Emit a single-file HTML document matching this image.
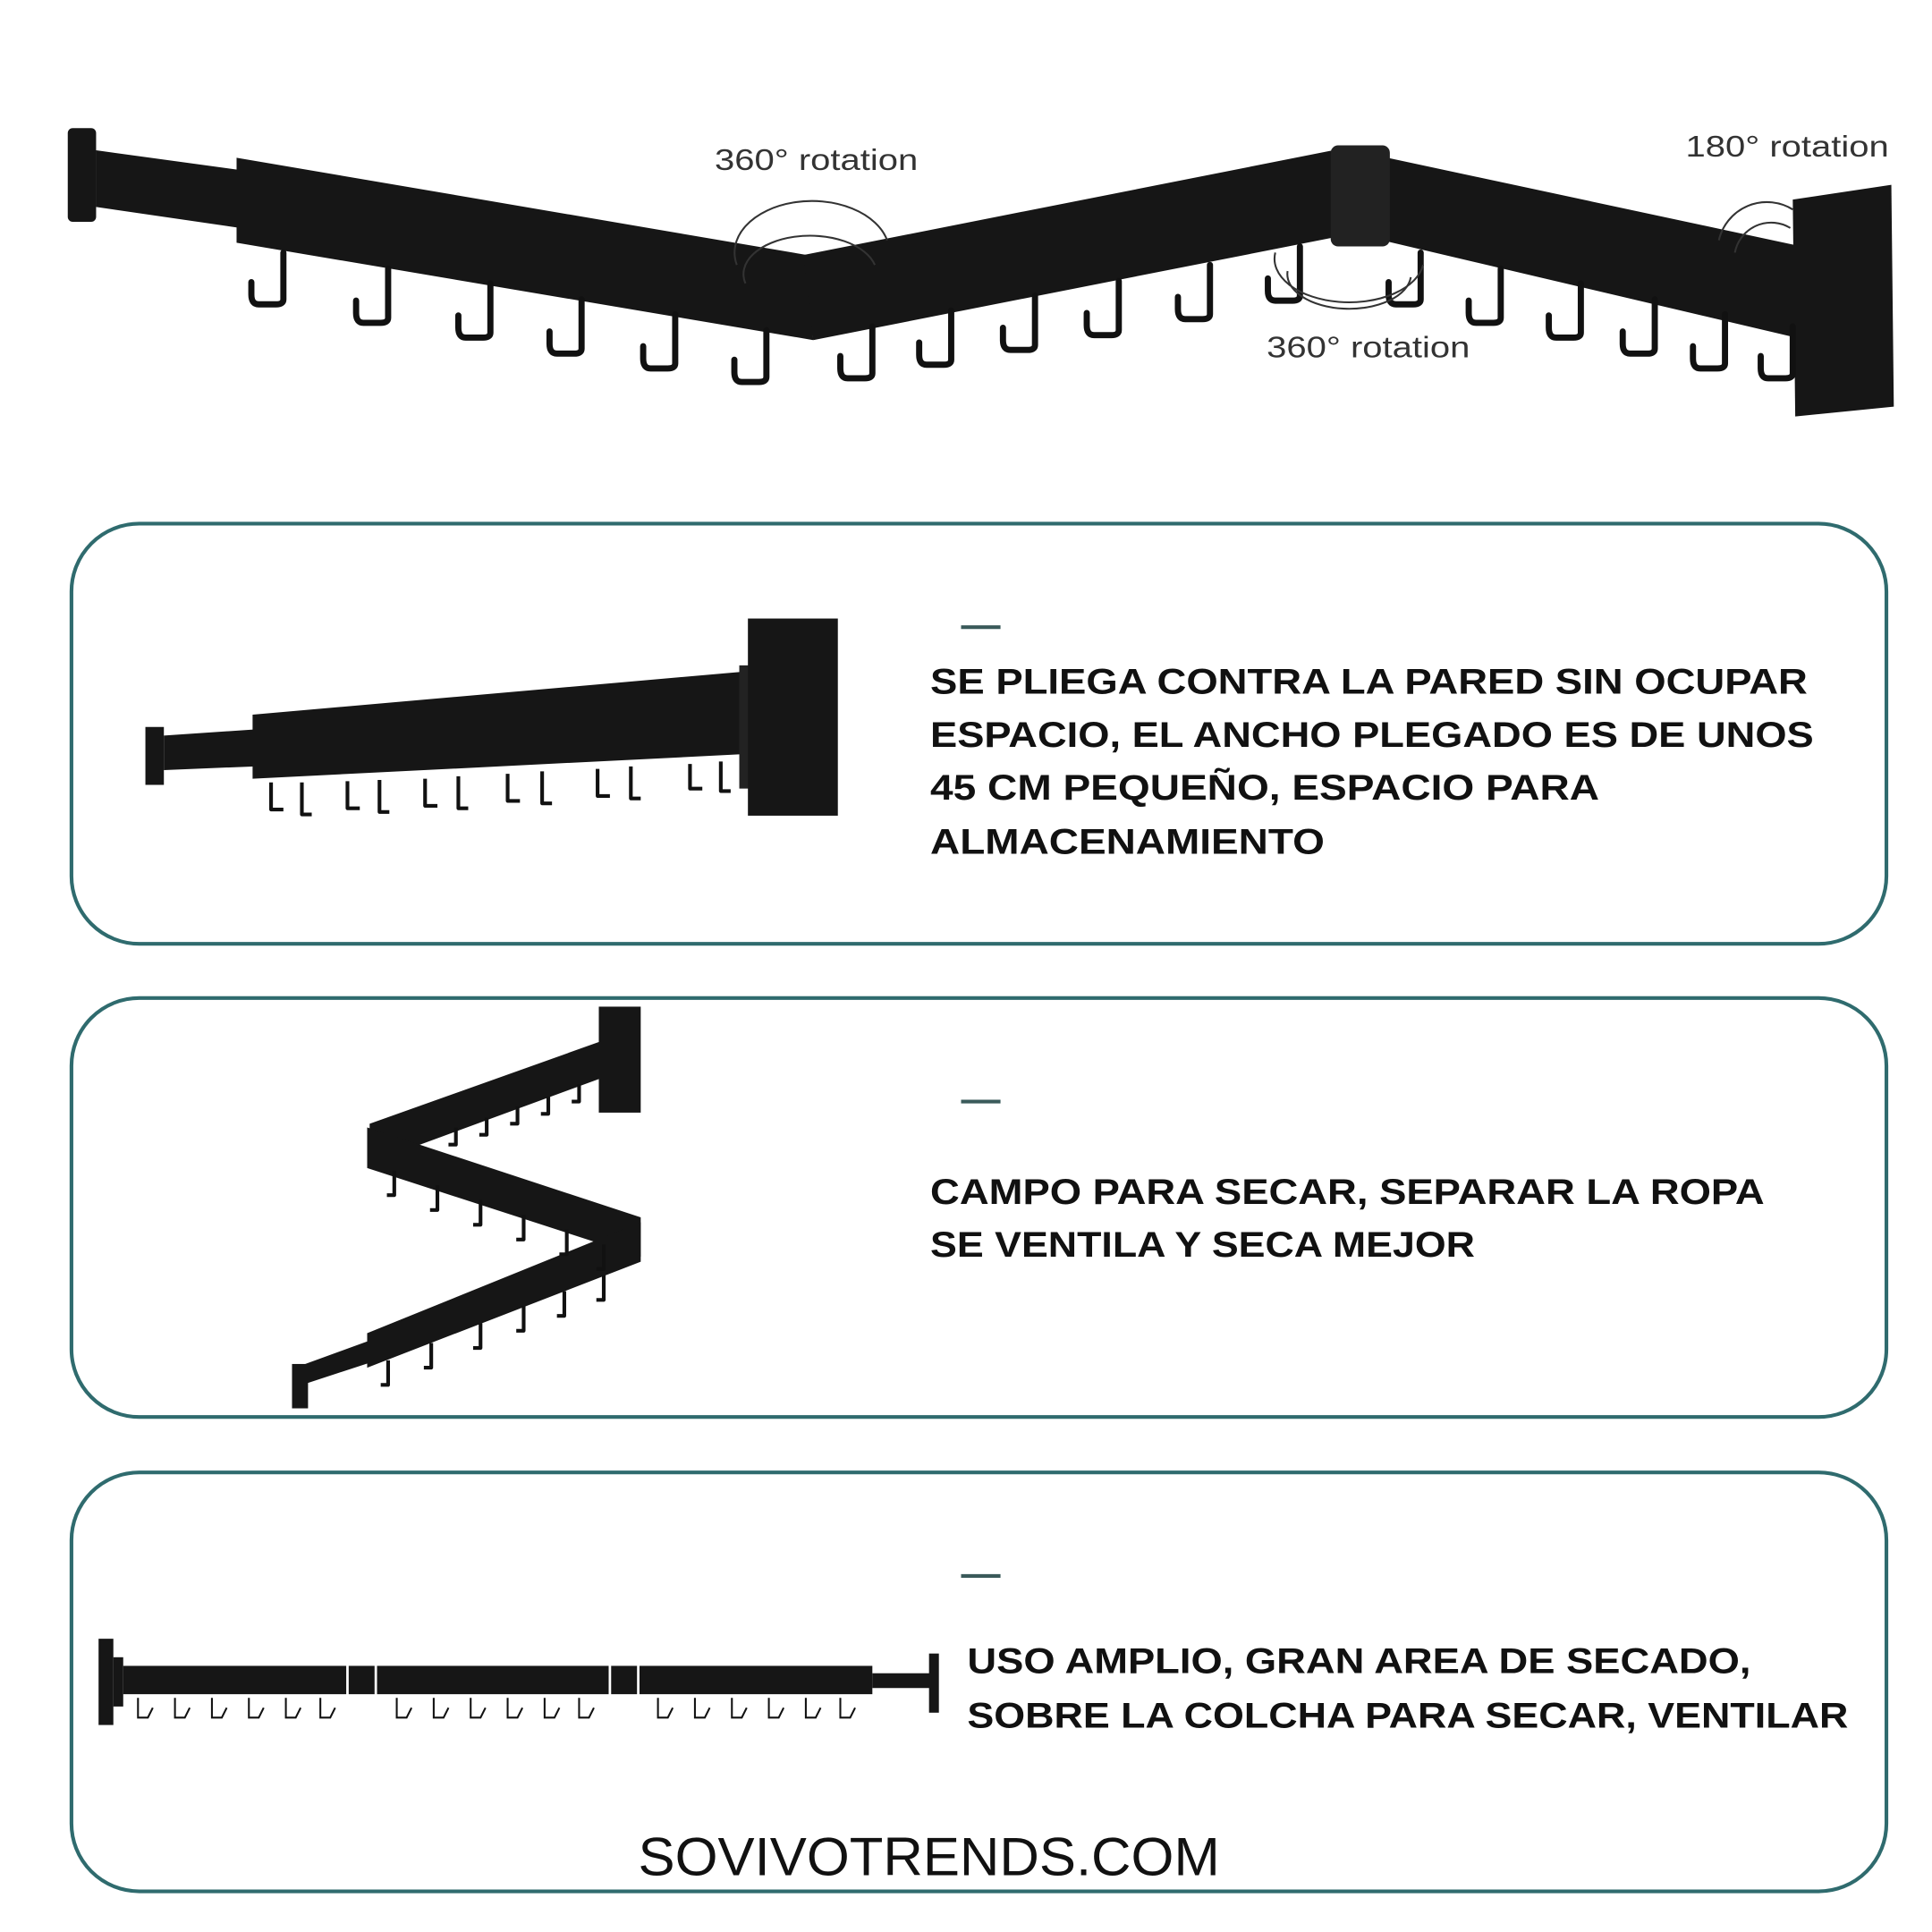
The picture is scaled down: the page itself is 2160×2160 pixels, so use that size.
<!DOCTYPE html>
<html><head><meta charset="utf-8"><style>
html,body{margin:0;padding:0;background:#fff}
svg{display:block}
.t{font-family:"Liberation Sans",sans-serif;font-weight:bold;font-size:29px;fill:#111}
.r{font-family:"Liberation Sans",sans-serif;font-size:24px;fill:#333}
.h{fill:none;stroke:#111;stroke-width:5;stroke-linecap:round;stroke-linejoin:round}
.hs{fill:none;stroke:#111;stroke-width:3;stroke-linejoin:round}
.hw{fill:none;stroke:#111;stroke-width:1.5}
</style></head><body>
<svg width="2160" height="2160" viewBox="0 0 1568 1568" xmlns="http://www.w3.org/2000/svg">
<rect width="1568" height="1568" fill="#fff"/>
<g fill="#161616">
<rect x="55" y="104" width="23" height="76" rx="4"/>
<polygon points="78,122 195,138 195,185 78,168"/>
<polygon points="192,128 655,207 660,276 192,197"/>
<polygon points="652,207 1082,122 1086,192 660,276"/>
<polygon points="1126,128 1462,200 1462,275 1126,196"/>
<rect x="1080" y="118" width="48" height="82" rx="6" fill="#222"/>
<polygon points="1455,162 1535,150 1537,330 1457,338"/>
</g>
<g class="h">
<path d="M230,205 v38 q0,4 -6,4 h-14 q-6,0 -6,-8 v-10"/>
<path d="M315,218 v40 q0,4 -6,4 h-14 q-6,0 -6,-8 v-10"/>
<path d="M398,230 v40 q0,4 -6,4 h-14 q-6,0 -6,-8 v-10"/>
<path d="M472,243 v40 q0,4 -6,4 h-14 q-6,0 -6,-8 v-10"/>
<path d="M548,255 v40 q0,4 -6,4 h-14 q-6,0 -6,-8 v-10"/>
<path d="M622,268 v38 q0,4 -6,4 h-14 q-6,0 -6,-8 v-10"/>
<path d="M708,265 v38 q0,4 -6,4 h-14 q-6,0 -6,-8 v-10"/>
<path d="M772,252 v40 q0,4 -6,4 h-14 q-6,0 -6,-8 v-10"/>
<path d="M840,240 v40 q0,4 -6,4 h-14 q-6,0 -6,-8 v-10"/>
<path d="M908,228 v40 q0,4 -6,4 h-14 q-6,0 -6,-8 v-10"/>
<path d="M982,215 v40 q0,4 -6,4 h-14 q-6,0 -6,-8 v-10"/>
<path d="M1055,200 v40 q0,4 -6,4 h-14 q-6,0 -6,-8 v-10"/>
<path d="M1153,205 v38 q0,4 -6,4 h-14 q-6,0 -6,-8 v-10"/>
<path d="M1218,218 v40 q0,4 -6,4 h-14 q-6,0 -6,-8 v-10"/>
<path d="M1283,230 v40 q0,4 -6,4 h-14 q-6,0 -6,-8 v-10"/>
<path d="M1343,243 v40 q0,4 -6,4 h-14 q-6,0 -6,-8 v-10"/>
<path d="M1400,255 v40 q0,4 -6,4 h-14 q-6,0 -6,-8 v-10"/>
<path d="M1455,265 v38 q0,4 -6,4 h-14 q-6,0 -6,-8 v-10"/>
</g>
<g fill="none" stroke="#333" stroke-width="1.5">
<path d="M598,215 a60,40 0 0 1 122,-20"/><path d="M605,230 a52,30 0 0 1 105,-15"/>
<path d="M1035,205 a60,35 0 0 0 120,10"/><path d="M1045,220 a50,28 0 0 0 100,5"/>
<path d="M1395,195 a40,40 0 0 1 60,-25"/><path d="M1408,205 a30,30 0 0 1 45,-20"/>
</g>
<text class="r" x="580" y="138" textLength="165" lengthAdjust="spacingAndGlyphs">360°  rotation</text>
<text class="r" x="1368" y="127" textLength="165" lengthAdjust="spacingAndGlyphs">180°  rotation</text>
<text class="r" x="1028" y="290" textLength="165" lengthAdjust="spacingAndGlyphs">360°  rotation</text>
<g fill="none" stroke="#2f6b6e" stroke-width="3">
<rect x="58" y="425" width="1473" height="341" rx="55"/>
<rect x="58" y="810" width="1473" height="340" rx="55"/>
<rect x="58" y="1195" width="1473" height="340" rx="55"/>
</g>
<g stroke="#3a5a5a" stroke-width="3">
<line x1="780" y1="509" x2="812" y2="509"/>
<line x1="780" y1="894" x2="812" y2="894"/>
<line x1="780" y1="1279" x2="812" y2="1279"/>
</g>
<g fill="#161616">
<rect x="118" y="590" width="15" height="47"/>
<polygon points="133,597 207,592 207,622 133,625"/>
<polygon points="205,580 605,545 605,612 205,632"/>
<rect x="600" y="540" width="40" height="100" fill="#222"/>
<rect x="607" y="502" width="73" height="160"/>
</g>
<g class="hs">
<path d="M220,635 v22 h10 M245,635 v26 h8 M282,634 v22 h10 M308,633 v26 h8 M345,632 v22 h10 M372,630 v26 h8 M412,628 v22 h10 M440,626 v26 h8 M485,624 v22 h10 M512,622 v26 h8 M560,620 v20 h10 M585,618 v24 h8"/>
</g>
<g fill="#161616">
<rect x="486" y="817" width="34" height="86"/>
<polygon points="488,845 300,912 300,944 488,875"/>
<polygon points="298,915 520,988 520,1020 298,948"/>
<polygon points="520,992 298,1082 298,1110 520,1024"/>
<polygon points="300,1088 245,1108 245,1124 300,1106"/>
<rect x="237" y="1107" width="13" height="36"/>
</g>
<g class="hs">
<path d="M470,880 v14 h-6 M445,890 v14 h-6 M420,898 v14 h-6 M395,907 v14 h-6 M370,915 v14 h-6"/>
<path d="M320,950 v20 h-6 M355,962 v20 h-6 M390,974 v20 h-6 M425,986 v20 h-6 M460,998 v20 h-6 M490,1010 v20 h-6"/>
<path d="M490,1035 v20 h-6 M458,1048 v20 h-6 M425,1060 v20 h-6 M390,1074 v20 h-6 M350,1090 v20 h-6 M315,1104 v20 h-6"/>
</g>
<g fill="#161616">
<rect x="80" y="1330" width="12" height="70"/>
<rect x="92" y="1345" width="8" height="40"/>
<rect x="100" y="1352" width="608" height="23"/>
<rect x="708" y="1358" width="48" height="12"/>
<rect x="754" y="1342" width="8" height="48"/>
</g>
<g stroke="#fff" stroke-width="2"><line x1="282" y1="1350" x2="282" y2="1377"/><line x1="305" y1="1350" x2="305" y2="1377"/><line x1="495" y1="1350" x2="495" y2="1377"/><line x1="518" y1="1350" x2="518" y2="1377"/></g>
<g class="hw">
<path d="M112,1378 v16 h8 l4,-8 M142,1378 v16 h8 l4,-8 M172,1378 v16 h8 l4,-8 M202,1378 v16 h8 l4,-8 M232,1378 v16 h8 l4,-8 M260,1378 v16 h8 l4,-8"/>
<path d="M322,1378 v16 h8 l4,-8 M352,1378 v16 h8 l4,-8 M382,1378 v16 h8 l4,-8 M412,1378 v16 h8 l4,-8 M442,1378 v16 h8 l4,-8 M470,1378 v16 h8 l4,-8"/>
<path d="M534,1378 v16 h8 l4,-8 M564,1378 v16 h8 l4,-8 M594,1378 v16 h8 l4,-8 M624,1378 v16 h8 l4,-8 M654,1378 v16 h8 l4,-8 M682,1378 v16 h8 l4,-8"/>
</g>
<text class="t" x="755" y="563" textLength="712" lengthAdjust="spacingAndGlyphs">SE PLIEGA CONTRA LA PARED SIN OCUPAR</text>
<text class="t" x="755" y="606" textLength="717" lengthAdjust="spacingAndGlyphs">ESPACIO, EL ANCHO PLEGADO ES DE UNOS</text>
<text class="t" x="755" y="649" textLength="543" lengthAdjust="spacingAndGlyphs">45 CM PEQUEÑO, ESPACIO PARA</text>
<text class="t" x="755" y="693" textLength="320" lengthAdjust="spacingAndGlyphs">ALMACENAMIENTO</text>
<text class="t" x="755" y="977" textLength="677" lengthAdjust="spacingAndGlyphs">CAMPO PARA SECAR, SEPARAR LA ROPA</text>
<text class="t" x="755" y="1020" textLength="442" lengthAdjust="spacingAndGlyphs">SE VENTILA Y SECA MEJOR</text>
<text class="t" x="785" y="1358" textLength="636" lengthAdjust="spacingAndGlyphs">USO AMPLIO, GRAN AREA DE SECADO,</text>
<text class="t" x="785" y="1402" textLength="715" lengthAdjust="spacingAndGlyphs">SOBRE LA COLCHA PARA SECAR, VENTILAR</text>
<text x="518" y="1522" font-family="Liberation Sans, sans-serif" font-size="44" fill="#111" textLength="472" lengthAdjust="spacingAndGlyphs">SOVIVOTRENDS.COM</text>
</svg>
</body></html>
